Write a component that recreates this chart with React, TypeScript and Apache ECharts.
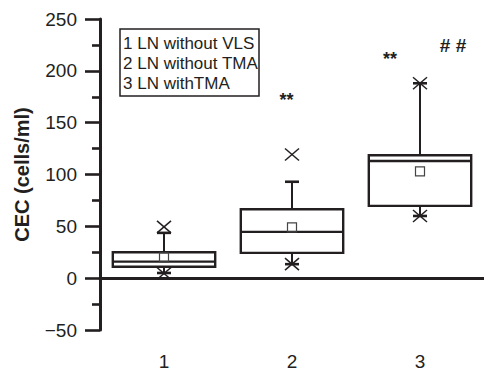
import React, { useEffect, useRef } from "react";
import * as echarts from "echarts";

const categories = ["1", "2", "3"];
const q1 = [11, 24.4, 69.7];
const median = [16, 44.7, 113];
const q3 = [25, 66.5, 118.6];
const whiskerLow = [5, 13.5, 60];
const whiskerHigh = [43.7, 93, 188];
const mean = [20, 49, 103];
const pctLow = [4.5, 13.5, 60];
const pctHigh = [49.5, 119.3, 188];
const legendLines = ["1 LN without VLS", "2 LN without TMA", "3 LN withTMA"];

const INK = "#231f20";
const FONT = "'Liberation Sans', Arial, Helvetica, sans-serif";

export default function App() {
  const ref = useRef<HTMLDivElement>(null);
  useEffect(() => {
    if (!ref.current) return;
    document.body.style.margin = "0";
    const chart = echarts.init(ref.current, null, { renderer: "svg" });
    const data = categories.map((_, i) => [
      i, q1[i], median[i], q3[i], whiskerLow[i], whiskerHigh[i], mean[i], pctLow[i], pctHigh[i],
    ]);
    const renderItem = (params: any, api: any) => {
      const x = api.value(0);
      const bw = api.size([1, 0])[0] * 0.8;
      const c = (v: number) => api.coord([x, v]);
      const pQ1 = c(api.value(1));
      const pMed = c(api.value(2));
      const pQ3 = c(api.value(3));
      const pWL = c(api.value(4));
      const pWH = c(api.value(5));
      const pMean = c(api.value(6));
      const pPL = c(api.value(7));
      const pPH = c(api.value(8));
      const cx = pQ1[0];
      const line = (x1: number, y1: number, x2: number, y2: number, lw: number) => ({
        type: "line",
        shape: { x1, y1, x2, y2 },
        style: { stroke: INK, lineWidth: lw },
      });
      const capW = 7;
      const cross = (p: number[]) => [
        line(p[0] - 7, p[1] - 6, p[0] + 7, p[1] + 6, 1.5),
        line(p[0] - 7, p[1] + 6, p[0] + 7, p[1] - 6, 1.5),
      ];
      return {
        type: "group",
        children: [
          line(cx, pQ3[1], cx, pWH[1], 2),
          line(cx, pQ1[1], cx, pWL[1], 2),
          line(cx - capW, pWH[1], cx + capW, pWH[1], 2.6),
          line(cx - capW, pWL[1], cx + capW, pWL[1], 2.6),
          {
            type: "rect",
            shape: { x: cx - bw / 2, y: pQ3[1], width: bw, height: pQ1[1] - pQ3[1] },
            style: { stroke: INK, lineWidth: 2.4, fill: "none" },
          },
          line(cx - bw / 2, pMed[1], cx + bw / 2, pMed[1], 2.4),
          {
            type: "rect",
            shape: { x: pMean[0] - 4.5, y: pMean[1] - 4.5, width: 9, height: 9 },
            style: { stroke: "#444", lineWidth: 1.2, fill: "none" },
          },
          ...cross(pPL),
          ...cross(pPH),
        ],
      };
    };
    chart.setOption({
      animation: false,
      grid: { left: 100, right: 0, top: 19, bottom: 41 },
      xAxis: {
        type: "category",
        data: categories,
        axisLine: { lineStyle: { color: INK, width: 3 } },
        axisTick: { alignWithLabel: true, length: 15, lineStyle: { color: INK, width: 3 } },
        axisLabel: { color: INK, fontSize: 19, fontFamily: FONT, margin: 22 },
        splitLine: { show: false },
      },
      yAxis: {
        type: "value",
        min: -50,
        max: 250,
        interval: 50,
        name: "CEC (cells/ml)",
        nameLocation: "middle",
        nameRotate: 90,
        nameGap: 68,
        nameTextStyle: { color: INK, fontSize: 20, fontWeight: "bold", fontFamily: FONT },
        axisLine: { show: true, lineStyle: { color: INK, width: 3 } },
        axisTick: { show: true, length: 15, lineStyle: { color: INK, width: 2.6 } },
        minorTick: { show: true, splitNumber: 2, length: 8, lineStyle: { color: INK, width: 2.6 } },
        axisLabel: {
          color: INK,
          fontSize: 19,
          fontFamily: FONT,
          margin: 23,
          formatter: (v: number) => (v < 0 ? "\u2212" + Math.abs(v) : String(v)),
        },
        splitLine: { show: false },
      },
      series: [
        {
          type: "custom",
          renderItem,
          data,
          encode: { x: 0, y: [1, 2, 3, 4, 5] },
        },
      ],
      graphic: [
        {
          type: "rect",
          shape: { x: 120, y: 29, width: 139, height: 67 },
          style: { stroke: INK, lineWidth: 1.5, fill: "#fff" },
        },
        ...legendLines.map((t, i) => ({
          type: "text",
          x: 123,
          y: 43 + i * 20,
          style: { text: t, fill: INK, fontSize: 17, fontFamily: FONT, verticalAlign: "middle" },
        })),
        {
          type: "text",
          x: 286.5,
          y: 91,
          style: { text: "**", fill: INK, fontSize: 18, fontWeight: "bold", fontFamily: FONT, align: "center", verticalAlign: "top" },
        },
        {
          type: "text",
          x: 390,
          y: 50,
          style: { text: "**", fill: INK, fontSize: 18, fontWeight: "bold", fontFamily: FONT, align: "center", verticalAlign: "top" },
        },
        {
          type: "text",
          x: 453,
          y: 45,
          style: { text: "# #", fill: INK, fontSize: 19, fontWeight: "bold", fontFamily: FONT, align: "center", verticalAlign: "middle" },
        },
      ],
    });
    return () => chart.dispose();
  }, []);
  return <div ref={ref} style={{ width: 484, height: 371 }} />;
}
